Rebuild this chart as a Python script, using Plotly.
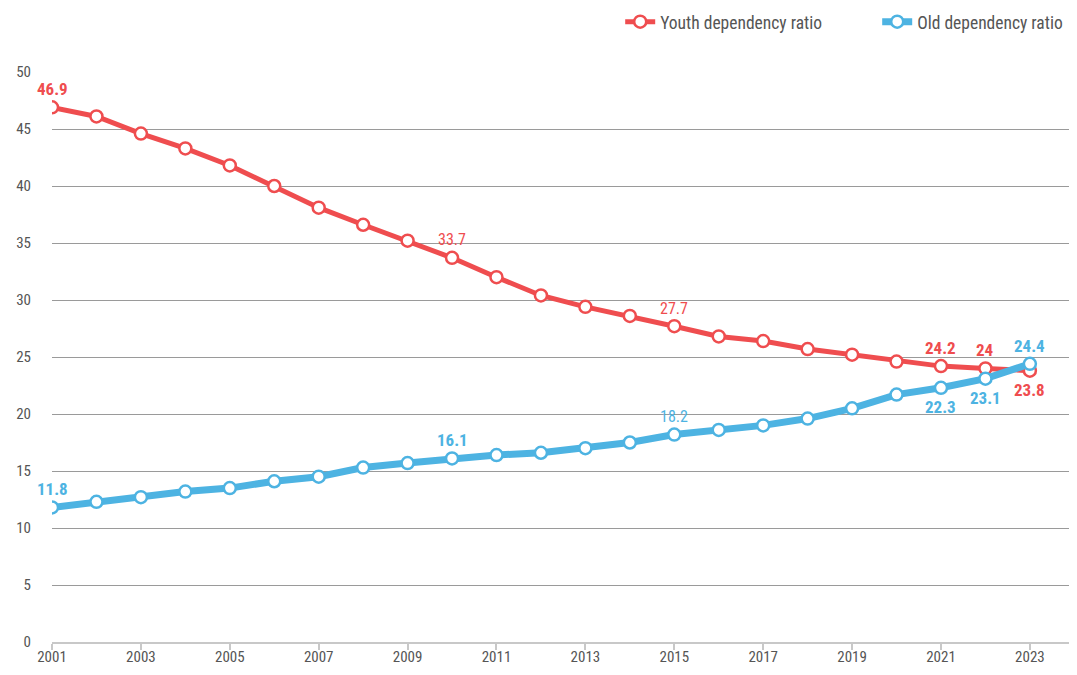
import plotly.graph_objects as go

years = list(range(2001, 2024))
youth = [46.9, 46.1, 44.6, 43.3, 41.8, 40.0, 38.1, 36.6, 35.2, 33.7, 32.0, 30.4, 29.4,
         28.6, 27.7, 26.8, 26.4, 25.7, 25.2, 24.6, 24.2, 24.0, 23.8]
old = [11.8, 12.3, 12.7, 13.2, 13.5, 14.1, 14.5, 15.3, 15.7, 16.1, 16.4, 16.6, 17.0,
       17.5, 18.2, 18.6, 19.0, 19.6, 20.5, 21.7, 22.3, 23.1, 24.4]
tick_years = list(range(2001, 2024, 2))
y_ticks = [0, 5, 10, 15, 20, 25, 30, 35, 40, 45, 50]

RED = "#ef4d4f"
BLUE = "#4db3e2"
FONT = "Liberation Sans Narrow, Roboto Condensed, Roboto"

# label specs: (index, position, bold)
youth_labels = [(0, "above", True), (9, "above", False), (14, "above", False),
                (20, "above", True), (21, "above", True), (22, "below", True)]
old_labels = [(0, "above", True), (9, "above", True), (14, "above", False),
              (20, "below", True), (21, "below", True), (22, "above", True)]

fig = go.Figure()
fig.add_trace(go.Scatter(x=years, y=youth, mode="lines+markers", name="Youth dependency ratio",
                         line=dict(color=RED, width=5),
                         marker=dict(size=12, color="white", line=dict(color=RED, width=2.5))))
fig.add_trace(go.Scatter(x=years, y=old, mode="lines+markers", name="Old dependency ratio",
                         line=dict(color=BLUE, width=7),
                         marker=dict(size=12, color="white", line=dict(color=BLUE, width=2.5))))

def add_labels(vals, specs, color):
    for i, pos, bold in specs:
        v = vals[i]
        txt = f"{v:g}"
        fig.add_annotation(x=years[i], y=v, text=f"<b>{txt}</b>" if bold else txt,
                           showarrow=False, yshift=18 if pos == "above" else -19,
                           font=dict(color=color, size=17 if bold else 16, family=FONT))

add_labels(youth, youth_labels, RED)
add_labels(old, old_labels, BLUE)

fig.update_layout(
    width=1061, height=659,
    margin=dict(l=44, r=0, t=64, b=25, autoexpand=False),
    plot_bgcolor="white", paper_bgcolor="white",
    font=dict(family=FONT, color="#555555", size=15),
    showlegend=True,
    legend=dict(orientation="h", xref="container", yref="container",
                x=0.577, xanchor="left", y=0.979, yanchor="middle",
                font=dict(size=17.5, color="#555555"), entrywidth=212,
                bgcolor="rgba(0,0,0,0)"),
    xaxis=dict(range=[2001, 2023.88], tickvals=tick_years, showgrid=False,
               showline=True, linecolor="#c8c8c8", linewidth=2,
               ticks="outside", tickcolor="#c8c8c8", ticklen=6, tickwidth=2,
               ticklabelstandoff=-6,
               zeroline=False, automargin=False, tickfont=dict(size=15, color="#555555")),
    yaxis=dict(range=[0, 50], tickvals=y_ticks, showgrid=True, gridcolor="#9a9a9a",
               gridwidth=1, zeroline=False, showline=False, ticks="", automargin=False,
               ticklabelstandoff=20, tickfont=dict(size=15, color="#555555")),
)

fig.write_html("out.html")
